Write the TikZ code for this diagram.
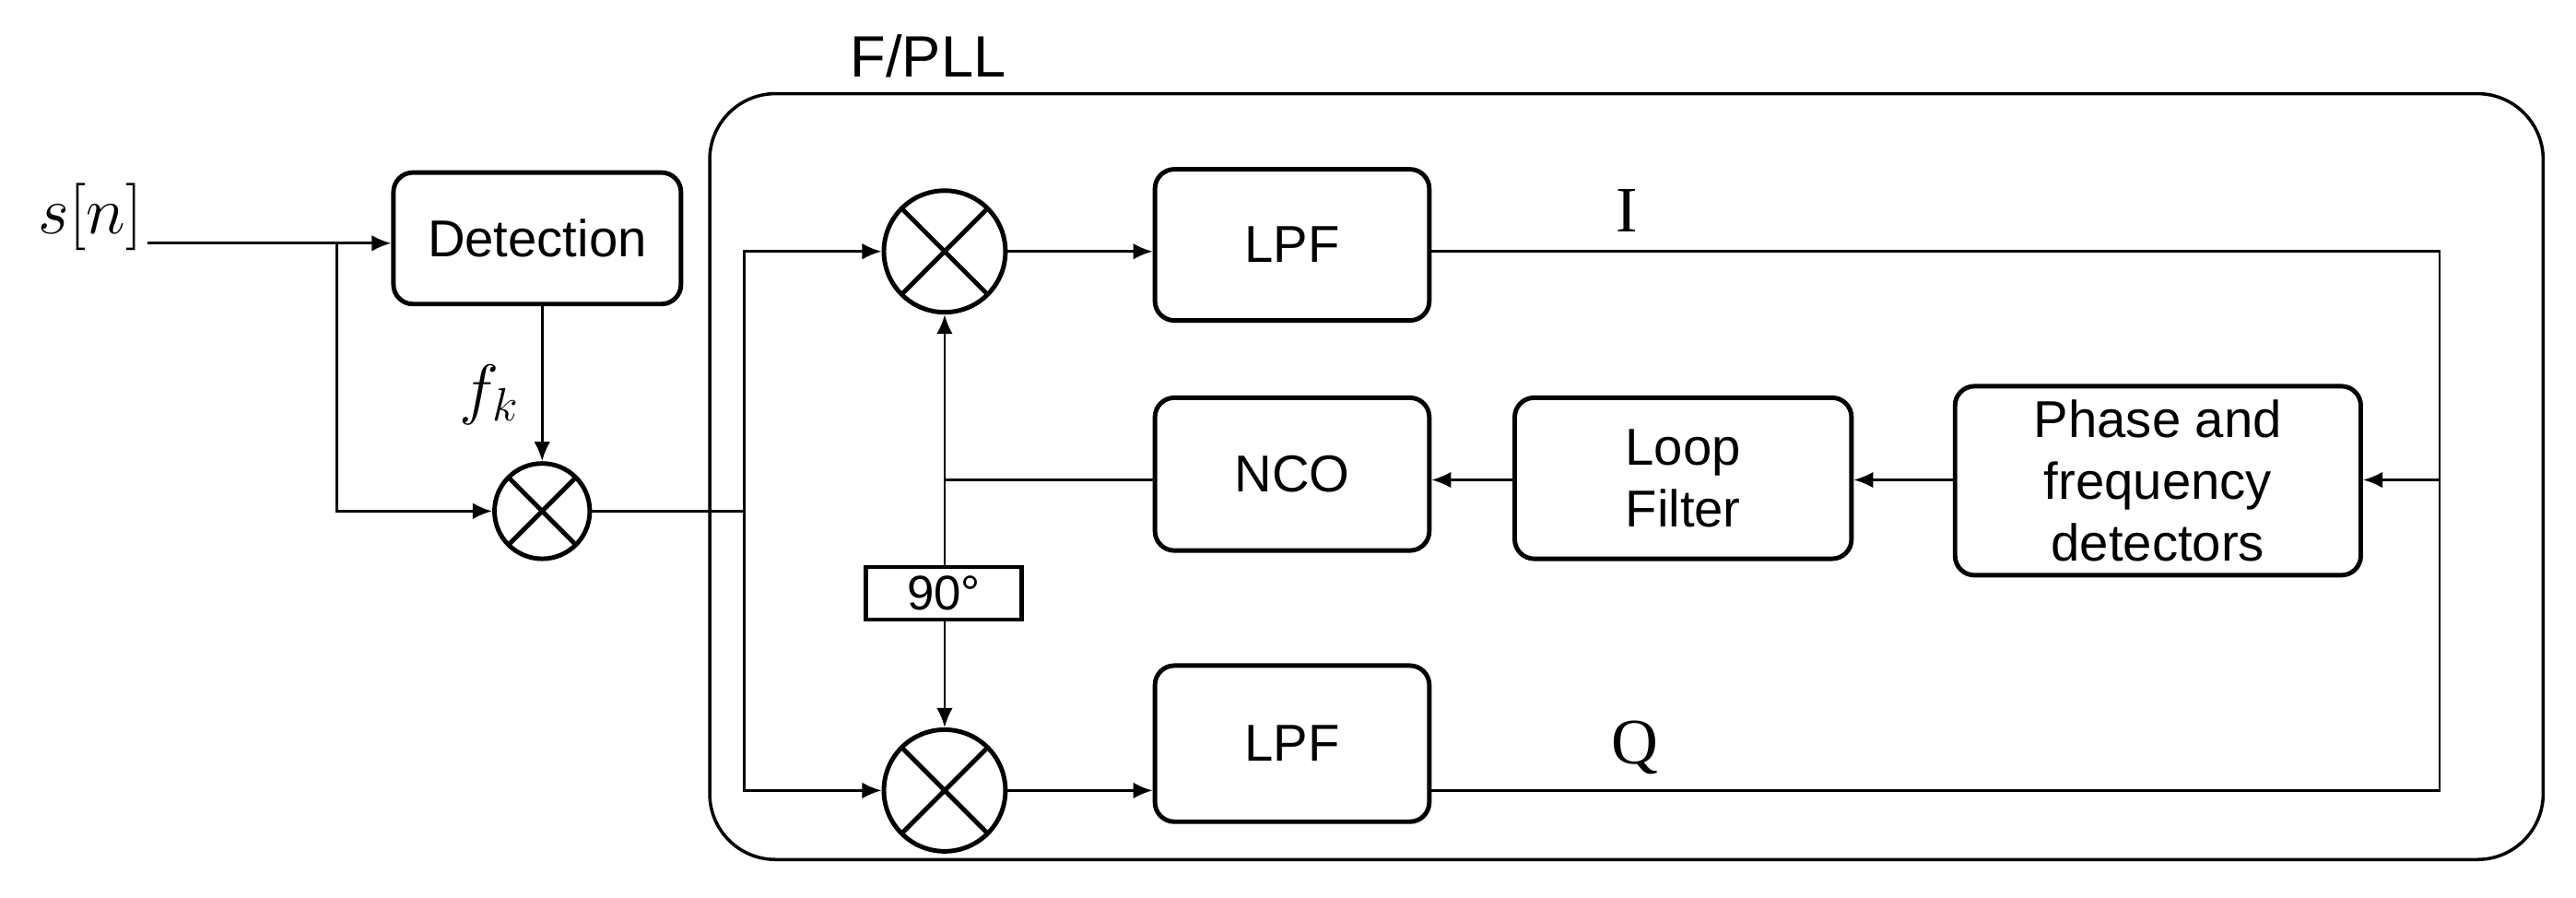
\documentclass[tikz,border=0pt]{standalone}
\usepackage{fontspec}
\setmainfont{Liberation Sans}
\newfontfamily\serifx{Liberation Serif}
\usetikzlibrary{arrows.meta}
\def\uu{0.017825cm}
\begin{document}
\begin{tikzpicture}[x=0.017825cm,y=-0.017825cm,
  blk/.style={draw,line width=1.4pt,rounded corners=6pt,inner sep=0pt,font=\fontsize{16}{19}\selectfont,align=center},
  mix/.style={draw,line width=1.4pt,circle,inner sep=0pt,path picture={\draw[line width=1.4pt](path picture bounding box.south west)--(path picture bounding box.north east)(path picture bounding box.north west)--(path picture bounding box.south east);}},
  con/.style={line width=0.8pt},
  arr/.style={con,-{Latex[length=6pt,width=5pt]}}]
\useasboundingbox (0,0) rectangle (1568,546);
\draw[line width=1pt,rounded corners=40*\uu] (432,57) rectangle (1548,523);
\node[font=\fontsize{18}{21}\selectfont] (title) at (565,34) {F/PLL};
\node[font=\fontsize{22}{26}\selectfont] (s) at (55,132) {$s[n]$};
\node[blk,minimum width=175*\uu,minimum height=80*\uu] (det) at (327,145) {Detection};
\node[mix,minimum size=58*\uu] (m1) at (330,311) {};
\node[mix,minimum size=74*\uu] (mt) at (575,153) {};
\node[mix,minimum size=74*\uu] (mb) at (575,481) {};
\node[blk,minimum width=167*\uu,minimum height=92*\uu] (lpf1) at (786.5,149) {LPF};
\node[blk,minimum width=167*\uu,minimum height=95*\uu] (lpf2) at (786.5,452.5) {LPF};
\node[blk,minimum width=167*\uu,minimum height=93*\uu] (nco) at (786.5,288.5) {NCO};
\node[blk,minimum width=205*\uu,minimum height=98*\uu] (lf) at (1024.5,291) {Loop\\Filter};
\node[blk,minimum width=247*\uu,minimum height=115*\uu] (pd) at (1313.5,292.5) {Phase and\\frequency\\detectors};
\node[draw,line width=1.4pt,minimum width=95*\uu,minimum height=32*\uu,inner sep=0pt,font=\fontsize{15}{18}\selectfont] (deg) at (574.5,361) {90\textdegree};
\node[font=\fontsize{22}{26}\selectfont] (fk) at (298,240) {$f_k$};
\node[font=\serifx\fontsize{20}{24}\selectfont] (I) at (990,128) {I};
\node[font=\serifx\fontsize{20}{24}\selectfont] (Q) at (995,455) {Q};
\coordinate (br) at (205,148);
\coordinate (sp) at (453,311);
\coordinate (rc) at (1485,292);
\coordinate (nc) at (575,292);
\coordinate (sin) at (90,148);
\draw[arr] (sin) -- (sin -| det.west);
\draw[arr] (br) |- (m1.west);
\draw[arr] (det.south -| m1.north) -- (m1.north);
\draw[con] (m1.east) -- (sp);
\draw[arr] (sp) |- (mt.west);
\draw[arr] (sp) |- (mb.west);
\draw[arr] (mt.east) -- (mt.east -| lpf1.west);
\draw[arr] (mb.east) -- (mb.east -| lpf2.west);
\draw[con] (mt.east -| lpf1.east) -| (rc) |- (mb.east -| lpf2.east);
\draw[arr] (rc) -- (rc -| pd.east);
\draw[arr] (rc -| pd.west) -- (rc -| lf.east);
\draw[arr] (rc -| lf.west) -- (rc -| nco.east);
\draw[con] (rc -| nco.west) -- (nc);
\draw[arr] (nc) -- (mt.south);
\draw[con] (nc) -- (nc |- deg.north);
\draw[arr] (nc |- deg.south) -- (mb.north);
\end{tikzpicture}
\end{document}
